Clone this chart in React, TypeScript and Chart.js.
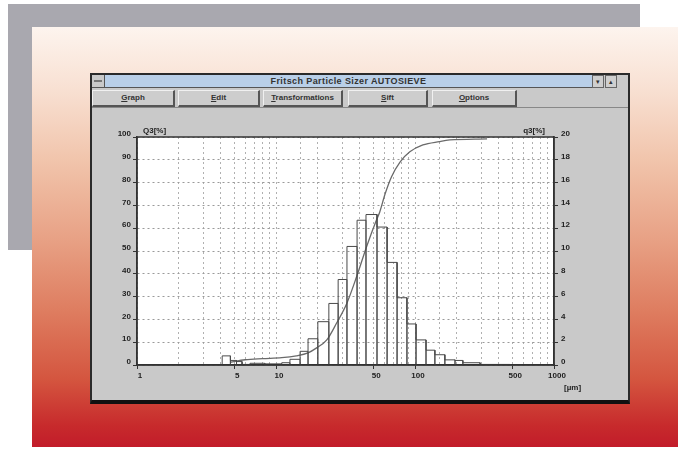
import React, { useEffect, useRef } from "react";
import { Chart, registerables } from "chart.js";

Chart.register(...registerables);

// Histogram class edges (µm) and q3 values (% per class, right axis)
const binEdges = [4.1, 4.7, 5.2, 5.7, 6.5, 8.3, 11, 12.6, 14.9, 17, 20, 24, 28, 32.4, 38.3, 44.4, 53.3, 63, 74.3, 87.5, 101.7, 120, 139, 164, 194, 221, 294, 482];
const binValues = [0.8, 0.4, 0.3, 0.05, 0.15, 0.1, 0.2, 0.5, 1.2, 2.3, 3.8, 5.4, 7.5, 10.4, 12.7, 13.2, 12.1, 9.0, 5.9, 3.6, 2.2, 1.3, 0.9, 0.45, 0.4, 0.2, 0.05];

// Cumulative curve Q3 (left axis, %)
const cumSizes = [4.7, 6, 8, 11, 14, 17, 19.6, 23.2, 27.3, 32.3, 38, 44.9, 52.8, 55.7, 60.9, 67.8, 78, 91.8, 114, 150, 178, 330];
const cumValues = [1.2, 2.3, 2.8, 3.2, 4.0, 5.3, 7.5, 11, 18.4, 27, 38.7, 52, 63.6, 67, 75, 82.6, 89, 93.5, 96.5, 98, 98.7, 99.2];

const xTickLabels = [1, 5, 10, 50, 100, 500, 1000];
const windowTitle = "Fritsch Particle Sizer AUTOSIEVE";
const menuItems = ["Graph", "Edit", "Transformations", "Sift", "Options"];

const FONT = '"Liberation Sans", Arial, sans-serif';

function isLabelled(v: number) {
  return xTickLabels.some((t) => Math.abs(t - v) / t < 1e-6);
}

export default function App() {
  const ref = useRef<HTMLCanvasElement>(null);

  useEffect(() => {
    const histPoints: { x: number; y: number }[] = [];
    binValues.forEach((v, i) => {
      histPoints.push(
        { x: binEdges[i], y: 0 },
        { x: binEdges[i], y: v },
        { x: binEdges[i + 1], y: v },
        { x: binEdges[i + 1], y: 0 }
      );
    });
    const cumPoints = cumSizes.map((s, i) => ({ x: s, y: cumValues[i] }));

    const framePlugin = {
      id: "frame",
      beforeDraw(chart: any) {
        const { ctx, chartArea: a } = chart;
        ctx.save();
        ctx.fillStyle = "#ffffff";
        ctx.fillRect(a.left, a.top, a.right - a.left, a.bottom - a.top);
        ctx.restore();
      },
      afterDraw(chart: any) {
        const { ctx, chartArea: a } = chart;
        ctx.save();
        ctx.strokeStyle = "#333";
        ctx.lineWidth = 1.5;
        ctx.strokeRect(a.left, a.top, a.right - a.left, a.bottom - a.top);
        ctx.fillStyle = "#222";
        ctx.font = `bold 8px ${FONT}`;
        ctx.textBaseline = "alphabetic";
        ctx.textAlign = "left";
        ctx.fillText("Q3[%]", a.left + 6, a.top - 4);
        ctx.textAlign = "right";
        ctx.fillText("q3[%]", a.right - 9, a.top - 4);
        ctx.textAlign = "left";
        ctx.fillText("[µm]", a.right + 10, a.bottom + 25);
        ctx.restore();
      },
    };

    const tickFont = { family: FONT, size: 8, weight: "bold" as const };

    const chart = new Chart(ref.current!, {
      type: "line",
      data: {
        datasets: [
          {
            data: histPoints,
            yAxisID: "y2",
            borderColor: "#4a4a4a",
            borderWidth: 1,
            pointRadius: 0,
            tension: 0,
            fill: false,
          },
          {
            data: cumPoints,
            yAxisID: "y",
            borderColor: "#6a6a6a",
            borderWidth: 1.3,
            pointRadius: 0,
            cubicInterpolationMode: "monotone",
            fill: false,
          },
        ],
      },
      options: {
        responsive: false,
        animation: false,
        devicePixelRatio: 1,
        layout: { padding: { top: 29, left: 0, right: 0, bottom: 0 } },
        plugins: { legend: { display: false }, tooltip: { enabled: false } },
        scales: {
          x: {
            type: "logarithmic",
            position: "bottom",
            min: 1,
            max: 1000,
            afterFit: (s: any) => {
              s.height = 38;
            },
            ticks: {
              autoSkip: false,
              maxRotation: 0,
              minRotation: 0,
              padding: 2,
              labelOffset: 3,
              color: "#222",
              font: tickFont,
              callback: (v: any) => (isLabelled(Number(v)) ? String(v) : ""),
            },
            grid: {
              color: "#b0b0b0",
              lineWidth: 1,
              tickLength: 4,
              tickColor: (c: any) => (c.tick && isLabelled(c.tick.value) ? "#333" : "rgba(0,0,0,0)"),
            },
            border: { color: "#333", width: 1.5, dash: [2, 3] },
          },
          y: {
            type: "linear",
            position: "left",
            min: 0,
            max: 100,
            afterFit: (s: any) => {
              s.width = 47;
            },
            ticks: {
              stepSize: 10,
              padding: 2,
              labelOffset: -3,
              color: "#222",
              font: tickFont,
            },
            grid: { color: "#9a9a9a", lineWidth: 1, tickLength: 4, tickColor: "#333" },
            border: { color: "#333", width: 1.5, dash: [2, 3] },
          },
          y2: {
            type: "linear",
            position: "right",
            min: 0,
            max: 20,
            afterFit: (s: any) => {
              s.width = 76;
            },
            ticks: {
              stepSize: 2,
              padding: 3,
              labelOffset: -3,
              color: "#222",
              font: tickFont,
            },
            grid: { drawOnChartArea: false, tickLength: 4, tickColor: "#333" },
            border: { color: "#333", width: 1.5 },
          },
        },
      },
      plugins: [framePlugin],
    } as any);
    return () => chart.destroy();
  }, []);

  const btnLefts = [0, 86, 171, 256, 340];
  const btnWidths = [83, 82, 80, 80, 85];

  return (
    <div
      style={{
        position: "absolute",
        left: 0,
        top: 0,
        width: 678,
        height: 450,
        overflow: "hidden",
        background: "#ffffff",
        fontFamily: FONT,
      }}
    >
      <div style={{ position: "absolute", left: 8, top: 4, width: 632, height: 246, background: "#a9a8af" }} />
      <div
        style={{
          position: "absolute",
          left: 32,
          top: 27,
          width: 646,
          height: 420,
          background:
            "linear-gradient(to bottom, #fdf4ee 0%, #f8e0d2 15%, #f1c4ab 32%, #e8a286 50%, #de7c5f 68%, #d4553f 84%, #c72a2c 95%, #c21c2a 100%)",
        }}
      />
      <div
        style={{
          position: "absolute",
          left: 90,
          top: 73,
          width: 540,
          height: 331,
          boxSizing: "border-box",
          border: "2px solid #2a2a2a",
          borderBottom: "4px solid #111",
          background: "#c9c9c9",
        }}
      >
        {/* system box */}
        <div
          style={{
            position: "absolute",
            left: 0,
            top: 0,
            width: 13,
            height: 13,
            background: "#c9c9c9",
            borderRight: "1px solid #555",
            borderBottom: "1px solid #555",
            boxSizing: "border-box",
          }}
        >
          <div style={{ position: "absolute", left: 2, top: 5, width: 8, height: 2, background: "#777" }} />
        </div>
        {/* title bar */}
        <div
          style={{
            position: "absolute",
            left: 13,
            top: 0,
            width: 487,
            height: 13,
            background: "#b9cfe8",
            borderBottom: "1px solid #555",
            boxSizing: "border-box",
            color: "#333",
            fontSize: 9,
            fontWeight: "bold",
            letterSpacing: "0.4px",
            lineHeight: "13px",
            textAlign: "center",
            whiteSpace: "nowrap",
          }}
        >
          {windowTitle}
        </div>
        {["▾", "▴"].map((s, i) => (
          <div
            key={i}
            style={{
              position: "absolute",
              left: 500 + i * 13,
              top: 0,
              width: 12,
              height: 13,
              background: "#cfcfcf",
              border: "1px solid #666",
              boxSizing: "border-box",
              fontSize: 7,
              lineHeight: "11px",
              textAlign: "center",
              color: "#333",
            }}
          >
            {s}
          </div>
        ))}
        {/* menu buttons */}
        {menuItems.map((m, i) => (
          <div
            key={m}
            style={{
              position: "absolute",
              left: btnLefts[i],
              top: 15,
              width: btnWidths[i],
              height: 17,
              background: "#cdcdcd",
              boxSizing: "border-box",
              borderTop: "1px solid #f0f0f0",
              borderLeft: "1px solid #f0f0f0",
              borderRight: "2px solid #555",
              borderBottom: "2px solid #555",
              fontSize: 8,
              fontWeight: "bold",
              color: "#333",
              lineHeight: "14px",
              textAlign: "center",
              whiteSpace: "nowrap",
            }}
          >
            <u>{m[0]}</u>
            {m.slice(1)}
          </div>
        ))}
        <div style={{ position: "absolute", left: 0, top: 32, width: 536, height: 1, background: "#888" }} />
      </div>
      <canvas ref={ref} width={540} height={295} style={{ position: "absolute", left: 90, top: 108 }} />
    </div>
  );
}
